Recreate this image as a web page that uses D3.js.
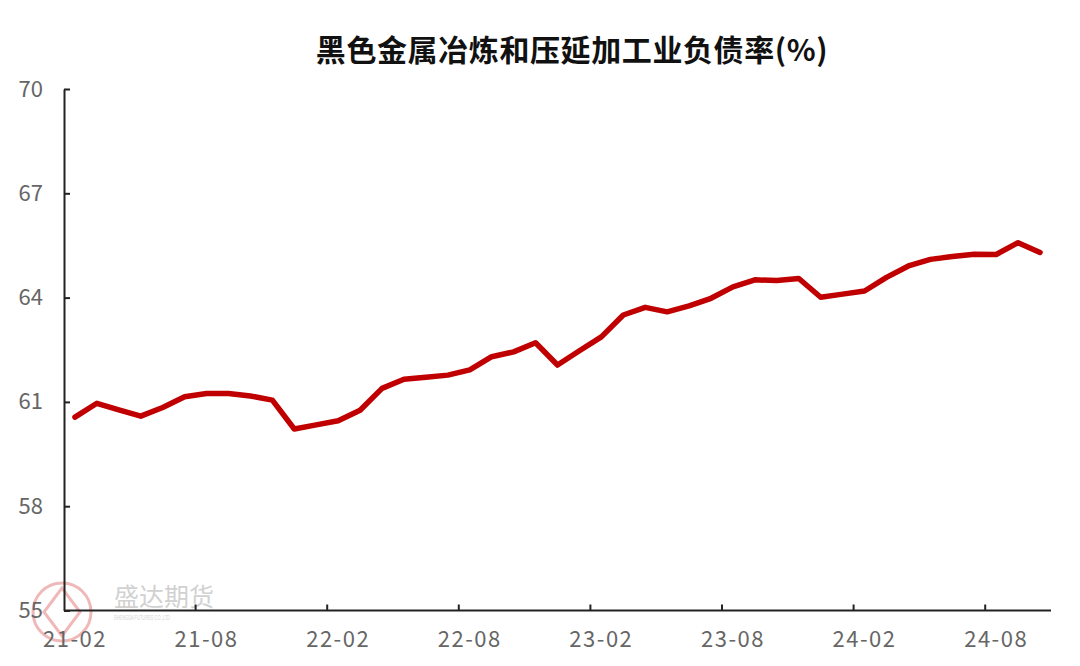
<!DOCTYPE html>
<html>
<head>
<meta charset="utf-8">
<script src="https://cdn.jsdelivr.net/npm/d3@7/dist/d3.min.js"></script>
<style>
  html, body { margin: 0; padding: 0; background: #fff; }
  svg { display: block; }
</style>
</head>
<body>
<svg id="chart" width="1080" height="666"></svg>
<script>
// ---- data ----
const title = "黑色金属冶炼和压延加工业负债率(%)";
const months = [
  "21-02","21-03","21-04","21-05","21-06","21-07","21-08","21-09","21-10","21-11","21-12",
  "22-01","22-02","22-03","22-04","22-05","22-06","22-07","22-08","22-09","22-10","22-11","22-12",
  "23-01","23-02","23-03","23-04","23-05","23-06","23-07","23-08","23-09","23-10","23-11","23-12",
  "24-01","24-02","24-03","24-04","24-05","24-06","24-07","24-08","24-09","24-10"
];
const debtRatio = [
  60.56, 60.96, 60.77, 60.59, 60.84, 61.15, 61.24, 61.24, 61.17, 61.05, 60.22,
  60.34, 60.46, 60.76, 61.39, 61.65, 61.71, 61.77, 61.92, 62.30, 62.44, 62.70, 62.06,
  62.47, 62.87, 63.50, 63.72, 63.59, 63.76, 63.98, 64.31, 64.51, 64.49, 64.55, 64.01,
  64.10, 64.19, 64.58, 64.91, 65.10, 65.18, 65.25, 65.24, 65.58, 65.30
];
const yTicks = [55, 58, 61, 64, 67, 70];
const xLabelMonths = ["21-02","21-08","22-02","22-08","23-02","23-08","24-02","24-08"];

// ---- chart ----
(function () {
const svg = d3.select("#chart");
const mLeft = 64, mRight = 1051, mTop = 89, mBottom = 610.5;

const x = d3.scaleBand().domain(months).range([mLeft, mRight]).padding(0);
const y = d3.scaleLinear().domain([55, 70]).range([mBottom, mTop]);

const fontTick = "'Noto Sans CJK SC', 'Noto Sans', sans-serif";

// watermark
const wm = svg.append("g").attr("opacity", 0.45);
wm.append("circle").attr("cx", 62).attr("cy", 612).attr("r", 29)
  .attr("fill", "none").attr("stroke", "#e06666").attr("stroke-width", 3);
wm.append("path")
  .attr("d", "M62,588 L44,612 L62,636 L80,612 Z")
  .attr("fill", "none").attr("stroke", "#e06666").attr("stroke-width", 3);
wm.append("text").attr("x", 114).attr("y", 606)
  .attr("font-family", fontTick).attr("font-size", 25).attr("fill", "#9a9a9a")
  .text("盛达期货");
wm.append("text").attr("x", 114).attr("y", 620)
  .attr("font-family", "'Liberation Sans', sans-serif").attr("font-size", 6.5)
  .attr("textLength", 56).attr("lengthAdjust", "spacingAndGlyphs")
  .attr("fill", "#9a9a9a")
  .text("SHENGDA FUTURES CO.,LTD");

// title
svg.append("text")
  .attr("x", 572).attr("y", 61)
  .attr("text-anchor", "middle")
  .attr("font-family", "'Noto Sans CJK SC', sans-serif")
  .attr("font-weight", "bold")
  .attr("font-size", 30)
  .attr("letter-spacing", 0.6)
  .attr("fill", "#111")
  .text(title);

// y axis
const yAxis = d3.axisLeft(y).tickValues(yTicks).tickSizeInner(-6).tickSizeOuter(0).tickPadding(21)
  .tickFormat(d3.format("d"));
const gy = svg.append("g").attr("transform", `translate(${mLeft},0)`).call(yAxis);
gy.select(".domain").attr("stroke", "#222").attr("stroke-width", 2);
gy.selectAll(".tick line").attr("stroke", "#222").attr("stroke-width", 2);
gy.selectAll(".tick text").attr("font-family", fontTick).attr("font-size", 22).attr("fill", "#666");

// x axis: ticks at band boundaries every 6 months, labels at band centres
const gx = svg.append("g");
gx.append("line")
  .attr("x1", mLeft).attr("x2", mRight).attr("y1", mBottom).attr("y2", mBottom)
  .attr("stroke", "#222").attr("stroke-width", 2);
gx.selectAll("line.xtick")
  .data(xLabelMonths.slice(1))
  .join("line")
  .attr("class", "xtick")
  .attr("x1", d => x(d)).attr("x2", d => x(d))
  .attr("y1", mBottom).attr("y2", mBottom - 6)
  .attr("stroke", "#222").attr("stroke-width", 2);
gx.selectAll("text.xlab")
  .data(xLabelMonths)
  .join("text")
  .attr("class", "xlab")
  .attr("x", d => x(d) + x.bandwidth() / 2)
  .attr("y", mBottom + 36)
  .attr("text-anchor", "middle")
  .attr("font-family", fontTick).attr("font-size", 22).attr("letter-spacing", 1.5).attr("fill", "#666")
  .text(d => d);

// line
const line = d3.line()
  .x((d, i) => x(months[i]) + x.bandwidth() / 2)
  .y(d => y(d));
svg.append("path")
  .datum(debtRatio)
  .attr("d", line)
  .attr("fill", "none")
  .attr("stroke", "#c00000")
  .attr("stroke-width", 5.5)
  .attr("stroke-linejoin", "round")
  .attr("stroke-linecap", "round");
})();
</script>
</body>
</html>
